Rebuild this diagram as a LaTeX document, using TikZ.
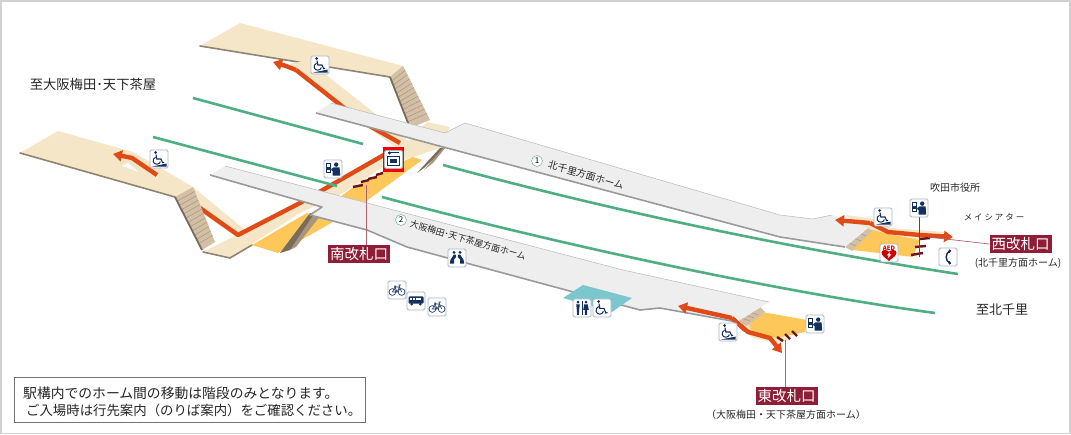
\documentclass[tikz,border=0pt]{standalone}
\usepackage{fontspec}
\setmainfont{Noto Sans CJK JP}
\usetikzlibrary{calc,arrows.meta}
\definecolor{beige}{HTML}{F5E6C8}
\definecolor{beigeedge}{HTML}{8E8472}
\definecolor{yell}{HTML}{FDC75A}
\definecolor{plat}{HTML}{EEEEEE}
\definecolor{platedge}{HTML}{9A9A9A}
\definecolor{trk}{HTML}{4FAE84}
\definecolor{oran}{HTML}{DF4A17}
\definecolor{wine}{HTML}{8E1E38}
\definecolor{navy}{HTML}{14305F}
\definecolor{stair}{HTML}{D2BFA6}
\definecolor{stairl}{HTML}{A8957C}
\definecolor{stairdark}{HTML}{786C5E}
\definecolor{teal}{HTML}{7CC6CE}
\definecolor{gate}{HTML}{6E1418}
\definecolor{iconedge}{HTML}{A9B8C8}
\tikzset{
  x=1pt,y=-1pt,
  beigeshape/.style={fill=beige,draw=none},
  yellowshape/.style={fill=yell,draw=none},
  sidebeige/.style={draw=beigeedge,line width=1.6pt,line cap=round},
  platshape/.style={fill=plat,draw=none},
  sideplat/.style={draw=platedge,line width=1.6pt,line join=round},
  topline/.style={draw=platedge!70,line width=.5pt},
  track/.style={draw=trk,line width=2.6pt},
  route/.style={draw=oran,line width=4.4pt,line join=round},
  routehead/.style={-{Triangle[length=9pt,width=11pt]}},
  gateline/.style={draw=gate,line width=2.4pt},
  leader/.style={draw=wine!70,line width=.7pt},
  exitlabel/.style={fill=wine,text=white,minimum width=62pt,minimum height=18pt,inner sep=0pt,font=\fontsize{14.5}{15}\selectfont},
  plain/.style={text=black!85,inner sep=0pt},
  iconbox/.style={fill=white,draw=iconedge,line width=.9pt,rounded corners=1.5pt},
  wheelicon/.pic={
    \path[iconbox] (-9,-9) rectangle (9,9);
    \fill[navy] (-3.4,-6.4) circle (1.5);
    \draw[navy,line width=1.1pt] (-3,-4.4) -- (-2.2,0) -- (2,0) -- (3.6,3.6) -- (5,3.2);
    \draw[navy,line width=1pt] (-3.4,-1.8) .. controls (-7.4,0) and (-6.2,5.6) .. (-2,5.2) .. controls (0,5) and (1,3.8) .. (1.4,2.6);
    \fill[navy] (-7.2,7.6) -- (7.6,7.6) -- (7.6,4.6) -- cycle;
  },
  wheelplainicon/.pic={
    \path[iconbox] (-9,-9) rectangle (9,9);
    \fill[navy] (-3.4,-6.4) circle (1.5);
    \draw[navy,line width=1.1pt] (-3,-4.4) -- (-2.2,0.4) -- (2,0.4) -- (3.8,5) -- (5.6,4.6);
    \draw[navy,line width=1pt] (-3.4,-1.4) .. controls (-7.6,0.6) and (-6.2,6.6) .. (-2,6.2) .. controls (0,6) and (1,4.6) .. (1.4,3.2);
  },
  ticketicon/.pic={
    \path[iconbox] (-9,-9) rectangle (9,9);
    \draw[navy,line width=1pt,fill=white] (-7,-5) rectangle (-2.2,4);
    \fill[navy] (-7,-1.5) rectangle (-2.2,1);
    \fill[navy] (3.2,-4.4) circle (2.2);
    \fill[navy] (0.4,-1.6) -- (6.6,-1.6) -- (7.2,6.6) -- (-0.4,6.6) -- (-0.4,2) -- (-2,1) -- (-1.4,-0.2) -- cycle;
  },
  officeicon/.pic={
    \path[iconbox] (-9,-9) rectangle (9,9);
    \draw[navy,line width=1pt] (-5.5,-6.5) -- (5,-6.5);
    \fill[navy] (-4,-6.5) circle (1.7);
    \draw[navy,line width=1.5pt,fill=white] (-5.8,-3) rectangle (5.8,6);
    \fill[navy] (-3.6,-0.6) rectangle (3.6,3.6);
  },
  gatesicon/.pic={
    \path[iconbox] (-9,-9) rectangle (9,9);
    \fill[navy] (-3,-5.6) circle (1.6) (3,-5.6) circle (1.6);
    \fill[navy] (-3.2,-3.4) -- (-1.2,-3.2) -- (-.8,-1) -- (-3,1.4) -- (-3,5.6) -- (-7.2,5.6) -- (-6.6,2) -- cycle;
    \fill[navy] (3.2,-3.4) -- (1.2,-3.2) -- (.8,-1) -- (3,1.4) -- (3,5.6) -- (7.2,5.6) -- (6.6,2) -- cycle;
  },
  bikeicon/.pic={
    \path[iconbox] (-9,-9) rectangle (9,9);
    \draw[navy!80!gray,line width=.7pt] (-4.6,2) circle (3.4);
    \draw[navy!80!gray,line width=.7pt] (4.6,2) circle (3.4);
    \draw[navy!80!gray,line width=.7pt] (-4.6,2) -- (-2,-3) -- (2.6,-3) -- (4.6,2) (-2,-3) -- (0,2) -- (2.6,-3) (-4.6,2) -- (0,2) (2.6,-3) -- (2,-5) -- (4,-5) (-3.2,-4) -- (-1,-4);
  },
  busicon/.pic={
    \path[iconbox] (-9,-9) rectangle (9,9);
    \fill[navy,rounded corners=1pt] (-7.5,-4.5) rectangle (7.5,2.6);
    \foreach \q in {-6,-3.2,-.4,2.4} {\fill[white] (\q,-3.2) rectangle ++(2.2,2);}
    \fill[navy] (-4.2,3.2) circle (1.4) (4.2,3.2) circle (1.4);
  },
  toileticon/.pic={
    \path[iconbox] (-9,-9) rectangle (9,9);
    \fill[navy] (-4,-5.8) circle (1.5) (4,-5.8) circle (1.5);
    \fill[navy] (-5.8,-3.6) -- (-2.2,-3.6) -- (-2.8,1.5) -- (-3.2,7) -- (-4.8,7) -- (-5.2,1.5) -- cycle;
    \fill[navy] (2.2,-3.6) -- (5.8,-3.6) -- (6.8,2) -- (5.2,2) -- (5,7) -- (3,7) -- (2.8,2) -- (1.2,2) -- cycle;
    \draw[navy,line width=.6pt] (0,-7) -- (0,7);
  },
  aedicon/.pic={
    \path[iconbox] (-9,-9) rectangle (9,9);
    \node[inner sep=0pt,text=red!80!black,font=\fontsize{6}{6}\selectfont\bfseries] at (0,-5) {AED};
    \fill[red!80!black] (0,8) .. controls (-3,5) and (-7.5,3) .. (-7.5,-0.4) .. controls (-7.5,-3.6) and (-2,-3.8) .. (0,-1.2) .. controls (2,-3.8) and (7.5,-3.6) .. (7.5,-0.4) .. controls (7.5,3) and (3,5) .. (0,8) -- cycle;
    \fill[white] (1,-1) -- (-2.4,2.4) -- (-.4,2.4) -- (-1.2,5.4) -- (2.4,1.4) -- (.4,1.4) -- cycle;
  },
  phoneicon/.pic={
    \path[iconbox] (-9,-9) rectangle (9,9);
    \draw[navy,line width=1.5pt] (1.8,-6) .. controls (-3,-4) and (-3,4) .. (1.8,6);
    \draw[navy,line width=3pt] (.6,-6.4) -- (2.4,-5.2) (.6,6.4) -- (2.4,5.2);
  },
}
\newcommand{\stairsteps}[5]{%
  \foreach \t in {0.08,0.16,...,0.95} {
    \draw[stairl,line width=.5pt] ($(#1)!\t!(#2)$) -- ($(#3)!\t!(#4)$);
  }
  \draw[stairdark,line width=#5] (#1) -- (#2);
}
\begin{document}
\begin{tikzpicture}
\useasboundingbox (0,0) rectangle (1071,435);
\fill[white] (0,0) rectangle (1071,435);
\draw[black!18,line width=1.4pt] (1,1) rectangle (1070,433.5);

% beige concourse and ramps
\path[beigeshape] (200,46) -- (240,23) -- (403,66) -- (390,77) -- cycle;
\path[sidebeige] (200,46) -- (390,77);
\path[beigeshape] (290,64) -- (307,60) -- (377,115) -- (345,112) -- cycle;
\path[beigeshape] (360,122) -- (380,122) -- (412,143) -- (400,150) -- cycle;
\path[beigeshape] (20,153) -- (58,131) -- (133,152) -- (193,187) -- (175,197) -- cycle;
\path[sidebeige] (20,153) -- (175,197);
\fill[white] (122,166) -- (128,163) -- (139,172) -- cycle;
\path[beigeshape] (193,187) -- (245,230) -- (238,238) -- (190,205) -- cycle;

% bridge
\path[beigeshape] (203,252) -- (300,203) -- (377,157) -- (407,143) -- (427,122) -- (450,127) -- (440,148) -- (383,167) -- (343,193) -- (300,213) -- (230,258) -- cycle;
\path[sidebeige] (203,252) -- (230,258) -- (252,245);

% yellow
\path[yellowshape] (340,197) -- (365,202) -- (422,160) -- (413,157) -- (395,165) -- (352,188) -- cycle;
\path[yellowshape] (252,245) -- (278,253) -- (333,222) -- (307,213) -- cycle;
% east / west landings
\path[beigeshape] (740,327) -- (748,320) -- (790,340) -- (775,343) -- (753,338) -- cycle;
\path[yellowshape] (748,323) -- (762,312) -- (807,320) -- (805,332) -- (777,338) -- (753,333) -- cycle;
\path[beigeshape] (845,215) -- (870,218) -- (890,228) -- (945,232) -- (920,240) -- (868,232) -- cycle;
\path[yellowshape] (853,250) -- (868,229) -- (893,235) -- (920,240) -- (913,257) -- cycle;

% routes
\draw[route] (400,143) -- (368,125) -- (343,107) -- (296,70);
\draw[route,routehead] (296,70) -- (286,66) -- (273,62);
\draw[route] (389,152) -- (300,203) -- (238,235) -- (200,208);
\draw[route,routehead] (157,175) -- (132,158) -- (113,154);
\draw[route,routehead] (732,318) -- (748,332) -- (770,338) -- (782,353);
\draw[route,routehead] (870,223) -- (888,232) -- (920,235) -- (953,237);

% stairs
\coordinate (sa1) at (390,77);  \coordinate (sa2) at (410,128);
\coordinate (sa3) at (403,66);  \coordinate (sa4) at (430,120);
\fill[stair] (sa1) -- (sa2) -- (sa4) -- (sa3) -- cycle;
\stairsteps{sa1}{sa2}{sa3}{sa4}{1.8pt}
\coordinate (sb1) at (175,197);  \coordinate (sb2) at (202,250);
\coordinate (sb3) at (193,187);  \coordinate (sb4) at (215,242);
\fill[stair] (sb1) -- (sb2) -- (sb4) -- (sb3) -- cycle;
\stairsteps{sb1}{sb2}{sb3}{sb4}{1.8pt}
\coordinate (sc1) at (737,322);  \coordinate (sc2) at (747,326);
\coordinate (sc3) at (760,307);  \coordinate (sc4) at (765,312);
\fill[stair] (sc1) -- (sc2) -- (sc4) -- (sc3) -- cycle;
\draw[stairl,line width=.5pt] (741,318) -- (750,321) (745,315) -- (754,318) (750,312) -- (758,315);
\coordinate (sd1) at (845,247);  \coordinate (sd2) at (852,251);
\coordinate (sd3) at (868,228);  \coordinate (sd4) at (872,231);
\fill[stair] (sd1) -- (sd2) -- (sd4) -- (sd3) -- cycle;
\draw[stairl,line width=.5pt] (849,243) -- (856,246) (854,238) -- (861,241) (859,233) -- (866,236);
% under-platform supports
\fill[stairdark] (310,213) -- (280,253) -- (290,250) -- (320,216) -- cycle;
\fill[stairl] (314,214) -- (290,250) -- (296,247) -- (320,216) -- cycle;
\fill[stairdark] (440,148) -- (417,173) -- (424,168) -- (446,147) -- cycle;
\fill[stairl] (443,148) -- (424,170) -- (433,163) -- (446,147) -- cycle;

% tracks
\draw[track] (193,98) -- (363,144);
\draw[track] (153,137) -- (337,186);
\draw[track] (443,165) .. controls (620,213) and (800,250) .. (958,274);
\draw[track] (382,197) .. controls (560,245) and (780,292) .. (935,313);

% platform 1
\path[platshape] (316,113) -- (331,103) -- (445,133) -- (465,123) -- (780,215) -- (813,219) -- (832,215) -- (868,228) -- (845,247) -- (780,237) -- cycle;
\draw[sideplat] (316,113) -- (780,237) -- (845,247);
\draw[topline] (331,103) -- (445,133) -- (465,123) -- (780,215) -- (813,219) -- (832,215);
% platform 2
\path[platshape] (210,175) -- (225,166) -- (367,203) -- (623,270) -- (769,302) -- (737,322) -- (660,308) -- (640,310) -- (540,283) -- (500,272) -- (407,247) -- (367,230) -- (310,215) -- (322,207) -- cycle;
\draw[sideplat] (210,175) -- (322,207) -- (310,215) -- (367,230) -- (407,247) -- (540,283) -- (640,310) -- (660,308) -- (737,322);
\draw[topline] (225,166) -- (367,203) -- (623,270) -- (769,302);
% restroom block
\path[fill=teal] (563,298) -- (583,285) -- (632,298) -- (612,312) -- cycle;

% arrows that run on top of the platform ends
\draw[route,routehead] (732,318) -- (678,306);
\draw[route] (745,330) -- (732,318);
\draw[route,routehead] (870,223) -- (835,220);

% ticket gates
\draw[gateline] (353,187) -- (363,185) (361,182) -- (369,180) (368,179) -- (377,177) (376,175) -- (383,173);
\draw[gateline] (777,337) -- (783,341) (785,334) -- (790,339) (792,331) -- (797,336);
\draw[gateline] (920,239) -- (930,238) (915,247) -- (926,246) (911,255) -- (923,253);

% labels
\node[exitlabel] (south) at (359,254) {南改札口};
\node[exitlabel] (west) at (1020.5,244) {西改札口};
\node[exitlabel] (east) at (786.5,396) {東改札口};
\coordinate (sg) at (366,185);
\coordinate (wg) at (928,237);
\coordinate (eg) at (785,340);
\draw[leader] (sg) -- (sg |- south.north);
\draw[leader] (wg) -- (west.west);
\draw[leader] (eg) -- (eg |- east.north);

% icons
\pic at (320,65) {wheelicon};
\pic at (159,159) {wheelicon};
\pic at (333,169) {ticketicon};
\path[draw=red!85!purple,line width=3.6pt] (385,149) rectangle (402,170);
\pic at (393.5,159.5) {officeicon};
\pic at (457,258) {gatesicon};
\pic at (397,290) {bikeicon};
\pic at (416,301) {busicon};
\pic at (437,307) {bikeicon};
\pic at (582,308) {toileticon};
\pic at (602,308) {wheelplainicon};
\pic at (728,332) {wheelicon};
\pic at (815,324) {ticketicon};
\pic at (883,217) {wheelicon};
\coordinate (wt) at (919,208);
\coordinate (wb) at (919,257);
\draw[black!70,line width=.7pt] (wt) -- (wb);
\pic at (wt) {ticketicon};
\pic at (889,253) {aedicon};
\pic at (948,257) {phoneicon};

% texts
\node[plain,font=\fontsize{13.3}{13}\selectfont] (t1) at (93,84) {至大阪梅田･天下茶屋};
\node[plain,font=\fontsize{13}{13}\selectfont] (t2) at (1002,310) {至北千里};
\node[plain,font=\fontsize{10}{10}\selectfont] (t3) at (955,188) {吹田市役所};
\node[plain,font=\fontsize{8.5}{9}\selectfont] (t4) at (994,217) {メ イ シ ア タ ー};
\node[plain,font=\fontsize{10}{10}\selectfont] (t5) at (1018,263) {(北千里方面ホーム)};
\node[plain,font=\fontsize{10}{10}\selectfont] (t6) at (786,415) {（大阪梅田・天下茶屋方面ホーム）};
\node[circle,draw=trk,fill=white,inner sep=0pt,minimum size=11pt,font=\fontsize{8}{8}\selectfont] (c1) at (537,161) {1};
\node[circle,draw=trk,fill=white,inner sep=0pt,minimum size=11pt,font=\fontsize{8}{8}\selectfont] (c2) at (401,220) {2};
\node[plain,rotate=-16,font=\fontsize{9.8}{10}\selectfont] (p1) at (586,175) {北千里方面ホーム};
\node[plain,rotate=-16,font=\fontsize{8.9}{9}\selectfont] (p2) at (468,240) {大阪梅田･天下茶屋方面ホーム};
\node[draw=black!55,line width=.9pt,fill=white,minimum width=351pt,minimum height=45pt,inner sep=0pt] (note) at (189.5,399.5) {};
\node[plain,anchor=west,font=\fontsize{13.8}{14}\selectfont] (n1) at (23,393) {駅構内でのホーム間の移動は階段のみとなります。};
\node[plain,anchor=west,font=\fontsize{13.4}{14}\selectfont] (n2) at (26,410) {ご入場時は行先案内（のりば案内）をご確認ください。};
\end{tikzpicture}
\end{document}
